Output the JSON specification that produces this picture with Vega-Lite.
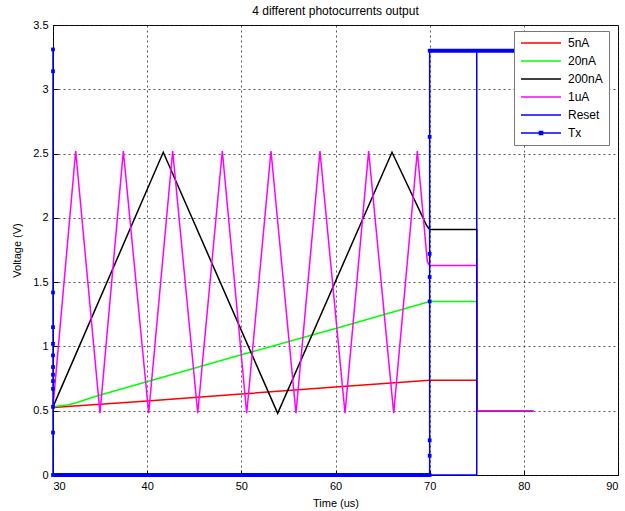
{
  "$schema": "https://vega.github.io/schema/vega-lite/v6.json",
  "width": 565,
  "height": 450,
  "autosize": {"type": "none"},
  "padding": {"left": 53, "top": 25, "right": 7, "bottom": 36},
  "background": "white",
  "title": {"text": "4 different photocurrents output", "fontSize": 12, "fontWeight": "normal", "font": "Liberation Sans", "color": "#000", "offset": 1},
  "config": {
    "view": {"stroke": "#000", "strokeWidth": 1},
    "axis": {
      "domain": false,
      "grid": true,
      "gridColor": "#222",
      "gridDash": [2, 3],
      "gridOpacity": 0.75,
      "gridWidth": 1,
      "tickColor": "#000",
      "tickSize": -5,
      "labelPadding": 10,
      "labelFont": "Liberation Sans",
      "labelFontSize": 11,
      "labelColor": "#000",
      "titleFont": "Liberation Sans",
      "titleFontSize": 11,
      "titleFontWeight": "normal",
      "titleColor": "#000"
    }
  },
  "datasets": {
    "lines": [
      {"s": "5nA", "i": 1, "x": 30, "y": 0.525},
      {"s": "5nA", "i": 2, "x": 40, "y": 0.575},
      {"s": "5nA", "i": 3, "x": 50, "y": 0.63},
      {"s": "5nA", "i": 4, "x": 60, "y": 0.685},
      {"s": "5nA", "i": 5, "x": 70, "y": 0.737},
      {"s": "5nA", "i": 6, "x": 75, "y": 0.737},
      {"s": "5nA", "i": 7, "x": 75, "y": 0.5},
      {"s": "5nA", "i": 8, "x": 81, "y": 0.5},
      {"s": "20nA", "i": 1, "x": 30, "y": 0.53},
      {"s": "20nA", "i": 2, "x": 31.5, "y": 0.545},
      {"s": "20nA", "i": 3, "x": 32.4, "y": 0.56},
      {"s": "20nA", "i": 4, "x": 34.2, "y": 0.605},
      {"s": "20nA", "i": 5, "x": 50, "y": 0.935},
      {"s": "20nA", "i": 6, "x": 60, "y": 1.14},
      {"s": "20nA", "i": 7, "x": 70, "y": 1.35},
      {"s": "20nA", "i": 8, "x": 75, "y": 1.35},
      {"s": "20nA", "i": 9, "x": 75, "y": 0.5},
      {"s": "20nA", "i": 10, "x": 81, "y": 0.5},
      {"s": "200nA", "i": 1, "x": 30, "y": 0.53},
      {"s": "200nA", "i": 2, "x": 41.71, "y": 2.51},
      {"s": "200nA", "i": 3, "x": 53.86, "y": 0.48},
      {"s": "200nA", "i": 4, "x": 66.0, "y": 2.51},
      {"s": "200nA", "i": 5, "x": 69.68, "y": 1.94},
      {"s": "200nA", "i": 6, "x": 70, "y": 1.91},
      {"s": "200nA", "i": 7, "x": 75, "y": 1.91},
      {"s": "200nA", "i": 8, "x": 75, "y": 0.5},
      {"s": "200nA", "i": 9, "x": 81, "y": 0.5},
      {"s": "1uA", "i": 1, "x": 30, "y": 0.53},
      {"s": "1uA", "i": 2, "x": 32.41, "y": 2.52},
      {"s": "1uA", "i": 3, "x": 34.99, "y": 0.48},
      {"s": "1uA", "i": 4, "x": 37.47, "y": 2.52},
      {"s": "1uA", "i": 5, "x": 40.16, "y": 0.48},
      {"s": "1uA", "i": 6, "x": 42.71, "y": 2.52},
      {"s": "1uA", "i": 7, "x": 45.37, "y": 0.48},
      {"s": "1uA", "i": 8, "x": 47.98, "y": 2.52},
      {"s": "1uA", "i": 9, "x": 50.57, "y": 0.48},
      {"s": "1uA", "i": 10, "x": 53.15, "y": 2.52},
      {"s": "1uA", "i": 11, "x": 55.8, "y": 0.48},
      {"s": "1uA", "i": 12, "x": 58.35, "y": 2.52},
      {"s": "1uA", "i": 13, "x": 61.01, "y": 0.48},
      {"s": "1uA", "i": 14, "x": 63.52, "y": 2.52},
      {"s": "1uA", "i": 15, "x": 66.18, "y": 0.48},
      {"s": "1uA", "i": 16, "x": 68.69, "y": 2.52},
      {"s": "1uA", "i": 17, "x": 69.75, "y": 1.66},
      {"s": "1uA", "i": 18, "x": 70, "y": 1.63},
      {"s": "1uA", "i": 19, "x": 75, "y": 1.63},
      {"s": "1uA", "i": 20, "x": 75, "y": 0.5},
      {"s": "1uA", "i": 21, "x": 81, "y": 0.5},
      {"s": "Reset", "i": 1, "x": 30, "y": 0},
      {"s": "Reset", "i": 2, "x": 75, "y": 0},
      {"s": "Reset", "i": 3, "x": 75, "y": 3.3},
      {"s": "Reset", "i": 4, "x": 81, "y": 3.3},
      {"s": "Tx", "i": 1, "x": 30, "y": 3.3},
      {"s": "Tx", "i": 2, "x": 30, "y": 0},
      {"s": "Tx", "i": 3, "x": 70, "y": 0},
      {"s": "Tx", "i": 4, "x": 70, "y": 3.3},
      {"s": "Tx", "i": 5, "x": 81, "y": 3.3}
    ],
    "txmarks": [
      {"x": 30, "y": 3.31}, {"x": 30, "y": 3.14}, {"x": 30, "y": 1.42}, {"x": 30, "y": 1.15},
      {"x": 30, "y": 1.02}, {"x": 30, "y": 0.93}, {"x": 30, "y": 0.84}, {"x": 30, "y": 0.78},
      {"x": 30, "y": 0.73}, {"x": 30, "y": 0.67}, {"x": 30, "y": 0.53}, {"x": 30, "y": 0.33},
      {"x": 30, "y": 0}, {"x": 70, "y": 0}, {"x": 70, "y": 0.15}, {"x": 70, "y": 0.27},
      {"x": 70, "y": 1.35}, {"x": 70, "y": 1.54}, {"x": 70, "y": 1.72}, {"x": 70, "y": 2.63},
      {"x": 70, "y": 3.3}
    ],
    "txhold": [
      {"x": 30, "x2": 70, "y": 0},
      {"x": 70, "x2": 81, "y": 3.3}
    ]
  },
  "layer": [
    {
      "data": {"name": "lines"},
      "mark": {"type": "line", "strokeWidth": 1.5, "interpolate": "linear"},
      "encoding": {
        "x": {"field": "x", "type": "quantitative", "scale": {"domain": [30, 90], "nice": false},
              "axis": {"values": [30, 40, 50, 60, 70, 80, 90], "format": "~g", "title": "Time (us)", "titlePadding": 6}},
        "y": {"field": "y", "type": "quantitative", "scale": {"domain": [0, 3.5], "nice": false},
              "axis": {"values": [0, 0.5, 1, 1.5, 2, 2.5, 3, 3.5], "format": "~g", "title": "Voltage (V)", "titlePadding": 10}},
        "order": {"field": "i", "type": "quantitative"},
        "color": {
          "field": "s", "type": "nominal",
          "scale": {"domain": ["5nA", "20nA", "200nA", "1uA", "Reset", "Tx"],
                    "range": ["#ff0000", "#00ff00", "#000000", "#ff00ff", "#0000ff", "#0000ff"]},
          "legend": {
            "orient": "none", "legendX": 461, "legendY": 6, "title": null,
            "fillColor": "white", "strokeColor": "#777", "padding": 6,
            "symbolType": "M-5,0L5,0", "symbolSize": 64, "symbolStrokeWidth": 1.5,
            "symbolOffset": 15, "labelOffset": 21,
            "labelFont": "Liberation Sans", "labelFontSize": 12, "labelColor": "#000",
            "rowPadding": 6,
            "encode": {"symbols": {"update": {
              "shape": {"signal": "datum.value === 'Tx' ? 'M-5,0L5,0M-0.4,-0.4L0.4,-0.4L0.4,0.4L-0.4,0.4Z' : 'M-5,0L5,0'"},
              "fill": {"signal": "datum.value === 'Tx' ? '#0000ff' : 'transparent'"}
            }}}
          }
        }
      }
    },
    {
      "data": {"name": "txhold"},
      "mark": {"type": "rule", "color": "#0000ff", "strokeWidth": 4},
      "encoding": {
        "x": {"field": "x", "type": "quantitative"},
        "x2": {"field": "x2"},
        "y": {"field": "y", "type": "quantitative"}
      }
    },
    {
      "data": {"name": "txmarks"},
      "mark": {"type": "point", "shape": "square", "filled": true, "color": "#0000ff", "size": 14, "opacity": 1},
      "encoding": {
        "x": {"field": "x", "type": "quantitative"},
        "y": {"field": "y", "type": "quantitative"}
      }
    }
  ]
}
